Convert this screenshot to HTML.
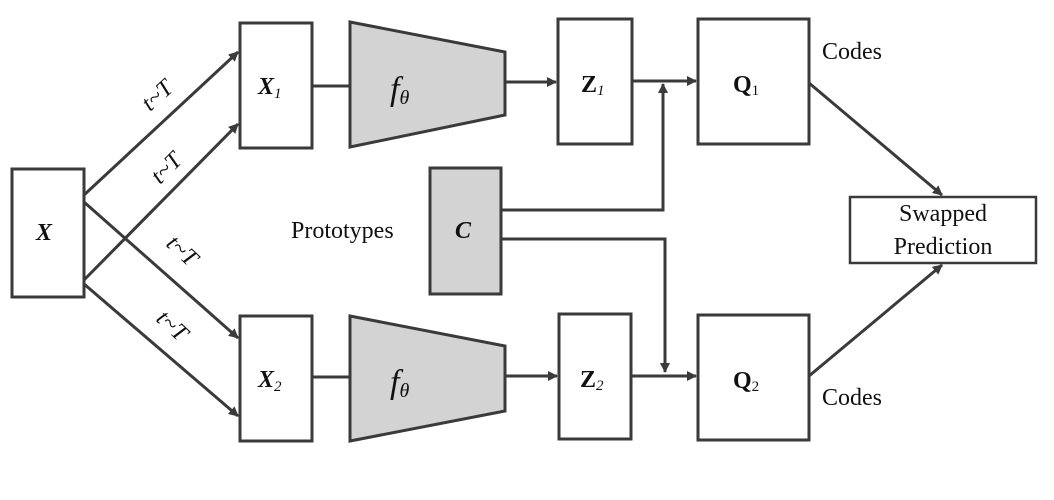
<!DOCTYPE html>
<html><head><style>
html,body{margin:0;padding:0;background:#fff;}
svg{display:block;font-family:"Liberation Serif",serif;}
</style></head><body>
<svg width="1054" height="500" viewBox="0 0 1054 500" xmlns="http://www.w3.org/2000/svg">
<defs>
<marker id="a" markerWidth="10" markerHeight="10" refX="9" refY="5" orient="auto" markerUnits="userSpaceOnUse">
<path d="M0,0 L10,5 L0,10 Z" fill="#3a3a3a"/></marker>
</defs>
<g stroke="#3a3a3a" stroke-width="3" fill="none">
<rect x="12" y="169" width="72" height="128" fill="#fff"/>
<rect x="240" y="23" width="72" height="125" fill="#fff"/>
<rect x="240" y="316" width="72" height="125" fill="#fff"/>
<polygon points="350,22 505,52 505,115 350,147" fill="#d3d3d3"/>
<polygon points="350,316 505,346 505,411 350,441" fill="#d3d3d3"/>
<rect x="430" y="168" width="71" height="126" fill="#d3d3d3"/>
<rect x="558" y="19" width="74" height="125" fill="#fff"/>
<rect x="559" y="314" width="72" height="125" fill="#fff"/>
<rect x="698" y="19" width="111" height="125" fill="#fff"/>
<rect x="698" y="315" width="111" height="125" fill="#fff"/>
<rect x="850" y="197" width="186" height="66" fill="#fff" stroke-width="2.5"/>
<line x1="84" y1="195" x2="238" y2="52" marker-end="url(#a)"/>
<line x1="84" y1="280" x2="238" y2="124" marker-end="url(#a)"/>
<line x1="84" y1="202" x2="238" y2="338" marker-end="url(#a)"/>
<line x1="84" y1="284" x2="238" y2="416" marker-end="url(#a)"/>
<line x1="312" y1="86" x2="350" y2="86"/>
<line x1="312" y1="377" x2="350" y2="377"/>
<line x1="505" y1="82" x2="556" y2="82" marker-end="url(#a)"/>
<line x1="505" y1="376" x2="557" y2="376" marker-end="url(#a)"/>
<line x1="632" y1="81" x2="696" y2="81" marker-end="url(#a)"/>
<line x1="631" y1="376" x2="696" y2="376" marker-end="url(#a)"/>
<polyline points="501,210 663,210 663,84" marker-end="url(#a)"/>
<polyline points="501,239 665,239 665,372" marker-end="url(#a)"/>
<line x1="809" y1="83" x2="942" y2="195" marker-end="url(#a)"/>
<line x1="809" y1="376" x2="942" y2="265" marker-end="url(#a)"/>
</g>
<g fill="#111" font-size="24">
<text x="36" y="240" font-weight="bold" font-style="italic">X</text>
<text x="258" y="94" font-weight="bold" font-style="italic">X<tspan font-size="15" font-weight="normal" dy="4">1</tspan></text>
<text x="258" y="387" font-weight="bold" font-style="italic">X<tspan font-size="15" font-weight="normal" dy="4">2</tspan></text>
<text x="390" y="100" font-style="italic" font-size="34">f<tspan font-size="20" dy="4">θ</tspan></text>
<text x="390" y="393" font-style="italic" font-size="34">f<tspan font-size="20" dy="4">θ</tspan></text>
<text x="455" y="238" font-weight="bold" font-style="italic">C</text>
<text x="581" y="92" font-weight="bold">Z<tspan font-size="15" font-weight="normal" font-style="italic" dy="3">1</tspan></text>
<text x="580" y="387" font-weight="bold">Z<tspan font-size="15" font-weight="normal" font-style="italic" dy="3">2</tspan></text>
<text x="733" y="92" font-weight="bold">Q<tspan font-size="15" font-weight="normal" dy="3">1</tspan></text>
<text x="733" y="388" font-weight="bold">Q<tspan font-size="15" font-weight="normal" dy="3">2</tspan></text>
<text x="822" y="59">Codes</text>
<text x="822" y="405">Codes</text>
<text x="291" y="238">Prototypes</text>
<text x="943" y="221" text-anchor="middle">Swapped</text>
<text x="943" y="254" text-anchor="middle">Prediction</text>
<text transform="translate(150,112) rotate(-42)" font-style="italic">t~T</text>
<text transform="translate(160,185) rotate(-45)" font-style="italic">t~T</text>
<text transform="translate(165,245) rotate(43)" font-style="italic">t~T</text>
<text transform="translate(155,320) rotate(43)" font-style="italic">t~T</text>
</g>
</svg>
</body></html>
